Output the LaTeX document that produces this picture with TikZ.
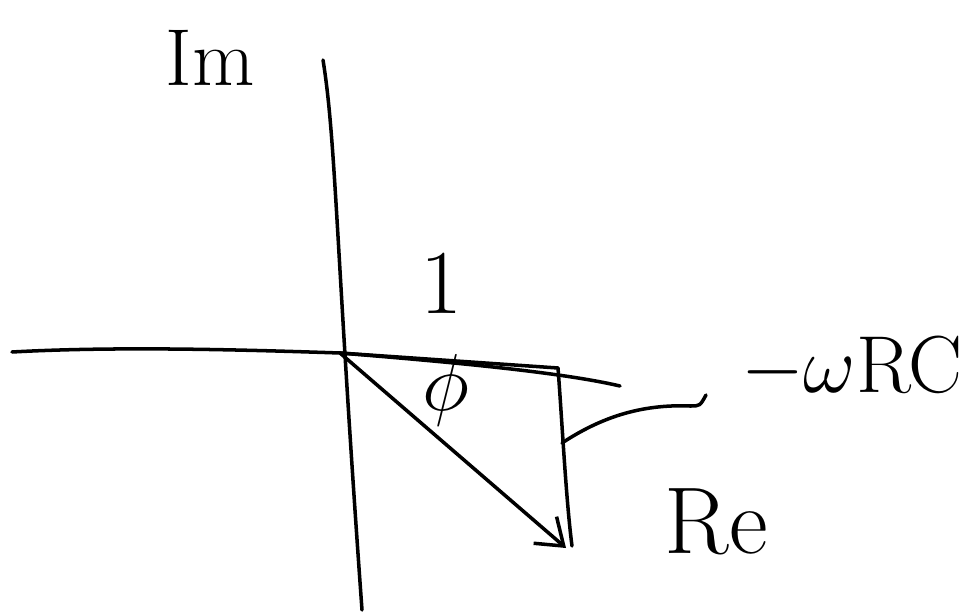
\RequirePackage{fix-cm}
\documentclass[tikz,border=0pt]{standalone}
\usepackage{fontspec}
\usetikzlibrary{arrows.meta}

\begin{document}
\begin{tikzpicture}[x=0.02cm,y=-0.02cm,line width=2pt,line cap=round,line join=round,
                    every node/.style={inner sep=0pt},
                    lbl/.style={font=\fontsize{#1}{#1}\selectfont}]
\useasboundingbox (0,0) rectangle (974,615);

% axes
\coordinate (o) at (340,353);
\coordinate (imtop) at (323,60);
\coordinate (imbot) at (362,610);
\coordinate (reneg) at (12,352);
\coordinate (repos) at (620,386);
\draw (imtop) .. controls (336,140) and (336,250) .. (imbot);
\draw (reneg) .. controls (120,346) and (250,350) .. (o);
\draw (o) .. controls (450,362) and (560,372) .. (repos);

% triangle
\coordinate (c) at (558,368);
\coordinate (cb) at (572,546);
\coordinate (cm) at (562,443);
\draw (o) -- (c);
\draw (c) .. controls (562,420) and (566,500) .. (cb);
\draw[-{Straight Barb[length=14pt,width=20pt]}] (o) -- (566,548) coordinate (tip);

% labels
\node[lbl=46] (im) at (210,58) {Im};
\node[lbl=52] (one) at (441,283) {1};
\node[lbl=46] (phi) at (446,390) {$\phi$};
\node[lbl=46] (wrc) at (852,368) {$-\omega$RC};
\node[lbl=54] (re) at (716,522) {Re};

\coordinate (wend) at (706,395);
\draw (cm) .. controls (600,418) and (640,404) .. (690,406) .. controls (700,406) .. (wend);
\end{tikzpicture}
\end{document}
